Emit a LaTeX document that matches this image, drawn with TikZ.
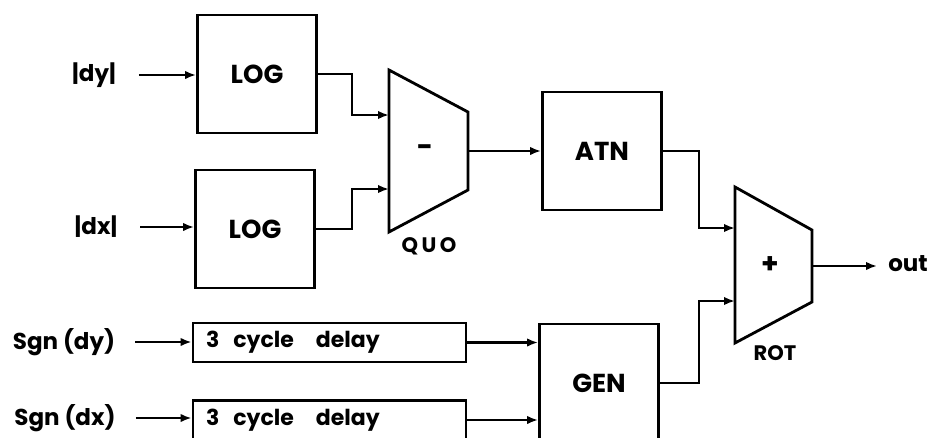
\documentclass[tikz,border=0pt]{standalone}
\usepackage{fontspec}
\setmainfont{Poppins}
\usepackage{xcolor}
\usetikzlibrary{arrows.meta}
\definecolor{InkBlack}{HTML}{000000}
\tikzset{
  block/.style={
    draw=InkBlack, line width=2.8pt, inner sep=0pt,
    minimum width=119pt, minimum height=118pt,
    font=\fontsize{26}{28}\selectfont\bfseries,
  },
  delaybox/.style={
    draw=InkBlack, line width=2.8pt, inner ysep=0pt, inner xsep=13pt,
    text width=247pt, minimum height=39pt, align=left,
    font=\fontsize{22}{24}\selectfont\bfseries,
  },
  mux/.style={draw=InkBlack, line width=2.8pt, line join=miter},
  sig/.style={
    -{Latex[length=11pt,width=8.5pt]}, color=InkBlack, line width=2.8pt,
  },
  inlbl/.style={font=\fontsize{23}{25}\selectfont\bfseries, inner sep=0pt},
  opsym/.style={font=\fontsize{28}{30}\selectfont\bfseries, inner sep=0pt},
  muxlbl/.style={font=\fontsize{21}{23}\selectfont\bfseries, inner sep=0pt},
}

\begin{document}
\begin{tikzpicture}[x=1pt, y=-1pt]

\clip (0,0) rectangle (935,437);

% ── Blocks ────────────────────────────────────────────────────────────────
\node[block] (LOG1) at (257, 74) {LOG};
\node[block] (LOG2) at (255,229) {LOG};
\node[block] (ATN)  at (602,151) {ATN};
\node[block] (GEN)  at (599,383) {GEN};
\node[delaybox] (DLY1) at (329.5,342.5) {3\hspace{14pt}cycle\hspace{22pt}delay};
\node[delaybox] (DLY2) at (329.5,420)   {3\hspace{14pt}cycle\hspace{22pt}delay};

% ── Inputs ────────────────────────────────────────────────────────────────
\node[inlbl] (DY)  at ( 94, 75) {|dy|};
\node[inlbl] (DX)  at ( 96,227) {|dx|};
\node[inlbl] (SDY) at ( 64,342) {Sgn (dy)};
\node[inlbl] (SDX) at ( 65,418) {Sgn (dx)};

% ── QUO (subtract) ────────────────────────────────────────────────────────
\coordinate (QUOa) at (389, 70);
\coordinate (QUOb) at (468,112);
\coordinate (QUOc) at (468,190);
\coordinate (QUOd) at (389,232);
\draw[mux] (QUOa) -- (QUOb) -- (QUOc) -- (QUOd) -- cycle;
\node[opsym]  (QUO)  at (425,151) {-};
\node[muxlbl] (QUOL) at (429,246) {Q\,U\,O};
\coordinate (QUOin1) at (389,115);
\coordinate (QUOin2) at (389,189);
\coordinate (QUOout) at (468,151);

% ── ROT (add) ─────────────────────────────────────────────────────────────
\coordinate (ROTa) at (735,187);
\coordinate (ROTb) at (812,230);
\coordinate (ROTc) at (812,302);
\coordinate (ROTd) at (735,343);
\draw[mux] (ROTa) -- (ROTb) -- (ROTc) -- (ROTd) -- cycle;
\node[opsym]  (ROT)  at (770,265) {+};
\node[muxlbl] (ROTL) at (775,353) {ROT};
\coordinate (ROTin1) at (735,228);
\coordinate (ROTin2) at (735,301);
\coordinate (ROTout) at (812,266);

\node[inlbl] (OUT) at (908,264) {out};

% ── Signals ───────────────────────────────────────────────────────────────
\draw[sig, shorten <=23pt] (DY.east)  -- (DY.east -| LOG1.west);
\draw[sig, shorten <=23pt] (DX.east)  -- (DX.east -| LOG2.west);
\draw[sig, shorten <=20pt] (SDY.east) -- (SDY.east -| DLY1.west);
\draw[sig, shorten <=20pt] (SDX.east) -- (SDX.east -| DLY2.west);

\draw[sig] (LOG1.east) -- ++(34,0) |- (QUOin1);
\draw[sig] (LOG2.east) -- ++(36,0) |- (QUOin2);
\draw[sig] (QUOout) -- (ATN.west);

\draw[sig] (DLY1.east) -- (DLY1.east -| GEN.west);
\draw[sig] (DLY2.east) -- (DLY2.east -| GEN.west);

\draw[sig] (ATN.east) -- ++(36,0) |- (ROTin1);
\draw[sig] (GEN.east) -- ++(39,0) |- (ROTin2);
\draw[sig, shorten >=11pt] (ROTout) -- (ROTout -| OUT.west);

\end{tikzpicture}
\end{document}
